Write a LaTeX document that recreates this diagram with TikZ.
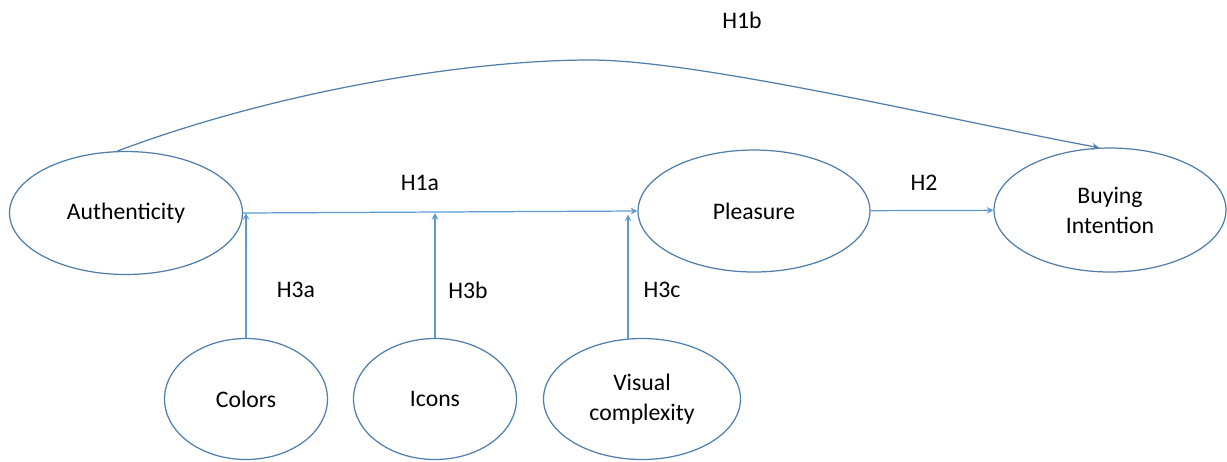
\documentclass[tikz,border=0pt]{standalone}
\usepackage{fontspec}
\setmainfont{Carlito}
\usepackage{tikz}
\usetikzlibrary{shapes.geometric}

\definecolor{rimblue}{RGB}{80,126,172}
\definecolor{linkblue}{RGB}{91,155,213}

\tikzset{
  construct/.style={ellipse,draw=rimblue,line width=0.7pt,inner sep=0pt,
    align=center,font=\fontsize{13.5}{17}\selectfont},
  hyp/.style={font=\fontsize{13.5}{16}\selectfont},
  link/.style={color=linkblue,line width=0.7pt},
}

\begin{document}
\begin{tikzpicture}[x=0.02cm,y=-0.02cm,>=stealth]
  \useasboundingbox (0,0) rectangle (1227,461);
  \node[construct,minimum width=4.66cm,minimum height=2.46cm] (auth) at (126,213) {Authenticity};
  \node[construct,minimum width=4.64cm,minimum height=2.44cm] (pleas) at (754,211) {Pleasure};
  \node[construct,minimum width=4.64cm,minimum height=2.48cm] (buy) at (1110,210) {Buying\\Intention};
  \node[construct,minimum width=3.26cm,minimum height=2.42cm] (colors) at (246,399) {Colors};
  \node[construct,minimum width=3.26cm,minimum height=2.42cm] (icons) at (435,399) {Icons};
  \node[construct,minimum width=3.94cm,minimum height=2.42cm] (visual) at (642,399) {Visual\\complexity};

  \node[hyp] (h1b) at (742,20) {H1b};
  \node[hyp] (h1a) at (420,183) {H1a};
  \node[hyp] (h2) at (924,183) {H2};
  \node[hyp] (h3a) at (296,290) {H3a};
  \node[hyp] (h3b) at (468,290) {H3b};
  \node[hyp] (h3c) at (662,290) {H3c};

  \coordinate (top) at (590,60);
  \coordinate (vfoot) at ([xshift=-0.28cm,yshift=-1pt]visual.north);
  \path[link,->]
    (auth.east) edge (pleas.west)
    (pleas) edge (buy)
    (colors.north) edge (colors.north |- auth.east)
    (icons.north) edge (icons.north |- auth.east)
    (vfoot) edge ([yshift=-2pt]vfoot |- pleas.west);
  \draw[color=rimblue,line width=0.7pt,->] (auth.98) .. controls (280,90) and (470,60) .. (top)
    .. controls (700,60) and (950,120) .. (buy.100);
\end{tikzpicture}
\end{document}
